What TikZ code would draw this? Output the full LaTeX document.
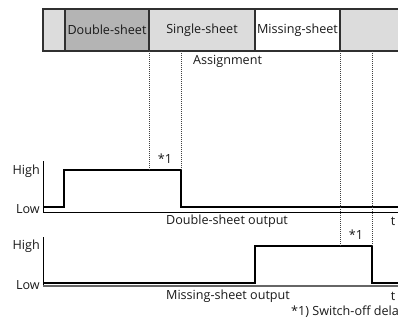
\documentclass[tikz,border=0pt]{standalone}
\usepackage{fontspec}
\setmainfont{Open Sans}
\definecolor{lightg}{HTML}{DCDCDC}
\definecolor{darkg}{HTML}{B4B4B4}
\definecolor{edge}{HTML}{303030}
\begin{document}
\begin{tikzpicture}[x=1pt,y=-1pt,
  font=\fontsize{12.6}{14}\selectfont,
  seg/.style={draw=edge,line width=1.1pt,minimum height=42pt,anchor=north west,inner sep=0pt,outer sep=0pt,text=black!90},
  lbl/.style={inner sep=0pt,text=black!90},
  guide/.style={draw=black!75,line width=0.7pt,dash pattern=on 0.9pt off 1.1pt},
  sig/.style={draw=black,line width=1.7pt,line join=miter},
  axis/.style={draw=black,line width=0.8pt}]
\useasboundingbox (0,0) rectangle (398,323);
% assignment bar
\node[seg,fill=lightg,minimum width=22pt] (s0) at (43,9) {};
\node[seg,fill=darkg,minimum width=84pt] (s1) at (65,9) {Double-sheet};
\node[seg,fill=lightg,minimum width=106pt] (s2) at (149,9) {Single-sheet};
\node[seg,fill=white,minimum width=85pt] (s3) at (255,9) {Missing-sheet};
\node[seg,fill=lightg,minimum width=70pt] (s4) at (340,9) {};
\node[lbl,anchor=west] (assign) at (193,61) {Assignment};
% coordinates of guide ends
\coordinate (g1t) at (149,51);
\coordinate (g2t) at (181,51);
\coordinate (g3t) at (340,51);
\coordinate (g4t) at (372,51);
% top graph
\coordinate (a1top) at (43,161);
\coordinate (a1o) at (43,212);
\coordinate (a1r) at (400,212);
\draw[axis] (a1top) -- (a1o) -- (a1r);
\coordinate (p1) at (43,207);
\coordinate (p2) at (64,207);
\coordinate (p3) at (64,170);
\coordinate (p4) at (181,170);
\coordinate (p5) at (181,207);
\coordinate (p6) at (400,207);
\draw[sig] (p1) -- (p2) -- (p3) -- (p4) -- (p5) -- (p6);
\coordinate (g1b) at (149,170);
\draw[guide] (g1t) -- (g1b);
\draw[guide] (g2t) -- (p4);
\node[lbl,anchor=east] (hi1) at (40,171) {High};
\node[lbl,anchor=east] (lo1) at (40,209) {Low};
\node[lbl] (d1) at (165,159) {*1};
\node[lbl] (out1) at (227,221) {Double-sheet output};
\node[lbl] (t1) at (393,221) {t};
% bottom graph
\coordinate (a2top) at (43,237);
\coordinate (a2o) at (43,286);
\coordinate (a2r) at (400,286);
\draw[axis] (a2top) -- (a2o);
\draw[draw=black!60,line width=1.4pt] (a2o) -- (a2r);
\coordinate (q1) at (43,283);
\coordinate (q2) at (255,283);
\coordinate (q3) at (255,246);
\coordinate (q4) at (372,246);
\coordinate (q5) at (372,283);
\coordinate (q6) at (400,283);
\draw[sig] (q1) -- (q2) -- (q3) -- (q4) -- (q5) -- (q6);
\draw[guide] (g3t) -- (340,246);
\draw[guide] (g4t) -- (q4);
\node[lbl,anchor=east] (hi2) at (40,246) {High};
\node[lbl,anchor=east] (lo2) at (40,285) {Low};
\node[lbl] (d2) at (356,235) {*1};
\node[lbl] (out2) at (228,296) {Missing-sheet output};
\node[lbl] (t2) at (393,296) {t};
\node[lbl,anchor=west] (note) at (291,312) {*1) Switch-off dela};
\end{tikzpicture}
\end{document}
